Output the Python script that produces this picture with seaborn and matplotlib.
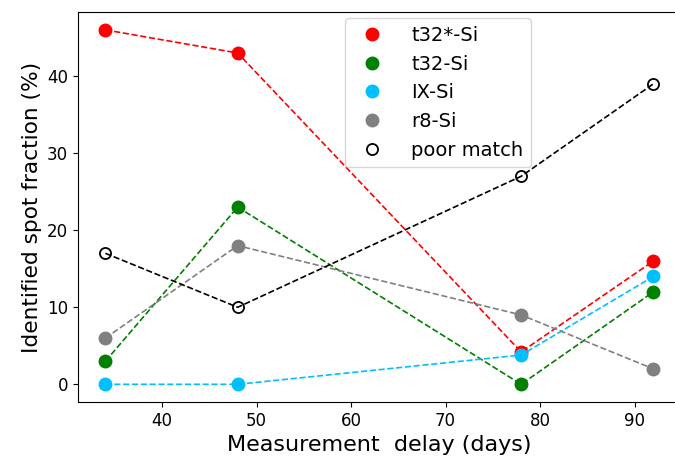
import numpy as np
import pandas as pd
import seaborn as sns
from matplotlib import pyplot as plt

plt.rcParams['font.family'] = ['DejaVu Sans']

days = [34, 48, 78, 92]
t32star = [46, 43, 4.2, 16]
t32 = [3, 23, 0, 12]
ix = [0, 0, 3.8, 14]
r8 = [6, 18, 9, 2]
poor = [17, 10, 27, 39]

series = [("t32*-Si", t32star, "red"),
          ("t32-Si", t32, "green"),
          ("IX-Si", ix, "deepskyblue"),
          ("r8-Si", r8, "grey")]

fig = plt.figure(figsize=(6.75, 4.63), dpi=100)
ax = fig.add_axes([0.1156, 0.1317, 0.893, 0.842])

for name, vals, col in series:
    sns.lineplot(x=days, y=vals, color=col, linestyle="--", linewidth=1.2, ax=ax)
    ax.plot(days, vals, "o", color=col, markersize=9, label=name, linestyle="none")

sns.lineplot(x=days, y=poor, color="black", linestyle="--", linewidth=1.2, ax=ax)
ax.plot(days, poor, "o", markerfacecolor="none", markeredgecolor="black",
        markeredgewidth=1.3, markersize=8, label="poor match", linestyle="none")

ax.margins(0.05)
ax.set_yticks([0, 10, 20, 30, 40])
ax.set_xticks([40, 50, 60, 70, 80, 90])
ax.tick_params(labelsize=12)
ax.set_xlabel("Measurement  delay (days)", fontsize=16)
ax.set_ylabel("Identified spot fraction (%)", fontsize=15.6)
ax.legend(loc="upper left", bbox_to_anchor=(0.443, 0.985), borderaxespad=0,
          fontsize=14, handletextpad=1.0)

plt.savefig("out.png", dpi=100)
